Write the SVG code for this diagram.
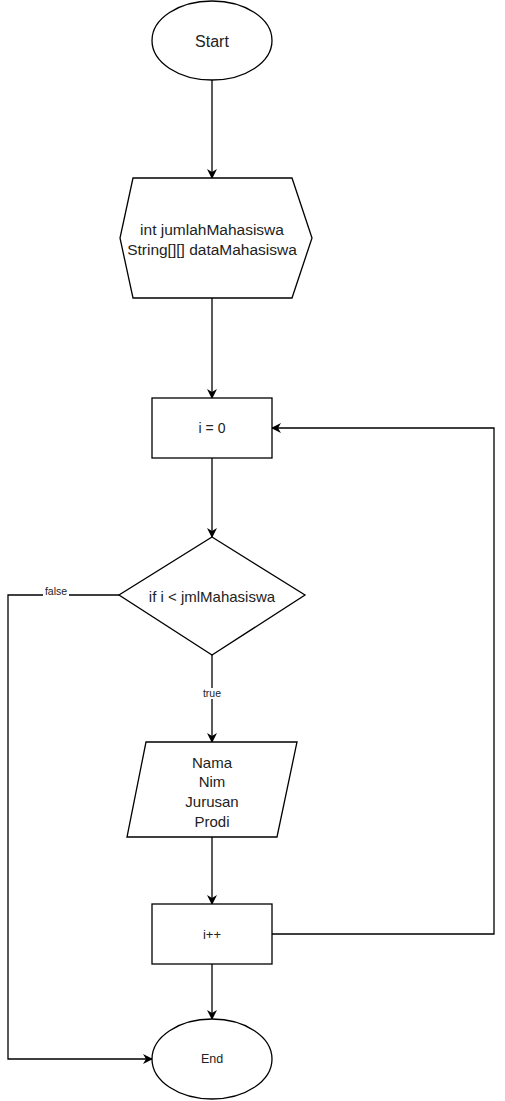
<svg xmlns="http://www.w3.org/2000/svg" width="505" height="1101" viewBox="0 0 505 1101">
<defs>
<marker id="arr" viewBox="0 0 10 10" refX="9" refY="5" markerWidth="10" markerHeight="10" markerUnits="userSpaceOnUse" orient="auto">
<path d="M0,0 L10,5 L0,10 L3,5 Z" fill="#000"/>
</marker>
<style>
.s{fill:#fff;stroke:#000;stroke-width:1.3}
.c{fill:none;stroke:#000;stroke-width:1.3;marker-end:url(#arr)}
.t{font-family:"Liberation Sans",Arial,sans-serif;fill:#222;text-anchor:middle;dominant-baseline:central}
.lbl{font-family:"Liberation Sans",Arial,sans-serif;fill:#222;text-anchor:middle;dominant-baseline:central;font-size:10.5px}
</style>
</defs>
<rect width="505" height="1101" fill="#fff"/>
<g id="connectors">
<path class="c" d="M212,80 L212,178"/>
<path class="c" d="M212,298 L212,398"/>
<path class="c" d="M212,458 L212,537"/>
<path class="c" d="M212,655 L212,742"/>
<path class="c" d="M212,837 L212,904"/>
<path class="c" d="M212,964 L212,1019"/>
<path class="c" d="M272,934 L494,934 L494,428 L272,428"/>
<path class="c" d="M119,595 L8,595 L8,1059 L152,1059"/>
<rect x="43" y="587" width="26" height="10" fill="#fff"/>
<text class="lbl" x="56" y="591">false</text>
<rect x="200" y="688" width="24" height="11" fill="#fff"/>
<text class="lbl" x="212" y="693">true</text>
</g>
<g id="start">
<ellipse class="s" cx="212" cy="40.5" rx="60" ry="39.5"/>
<text class="t" x="212" y="41" font-size="16">Start</text>
</g>
<g id="decl">
<polygon class="s" points="133,178 292,178 312,238 292,298 133,298 120,238"/>
<text class="t" x="212" y="229" font-size="15.5">int jumlahMahasiswa</text>
<text class="t" x="212" y="249" font-size="15.5">String[][] dataMahasiswa</text>
</g>
<g id="init">
<rect class="s" x="152" y="398" width="120" height="60"/>
<text class="t" x="212" y="428" font-size="14">i = 0</text>
</g>
<g id="cond">
<polygon class="s" points="212,537 305,595 212,655 119,595"/>
<text class="t" x="212" y="596" font-size="15">if i &lt; jmlMahasiswa</text>
</g>
<g id="input">
<polygon class="s" points="146,742 297,742 277,837 127,837"/>
<text class="t" x="212" y="762" font-size="15">Nama</text>
<text class="t" x="212" y="781" font-size="15">Nim</text>
<text class="t" x="212" y="801" font-size="15">Jurusan</text>
<text class="t" x="212" y="821" font-size="15">Prodi</text>
</g>
<g id="inc">
<rect class="s" x="152" y="904" width="120" height="60"/>
<text class="t" x="212" y="934" font-size="13">i++</text>
</g>
<g id="end">
<ellipse class="s" cx="212" cy="1059" rx="60" ry="40"/>
<text class="t" x="212" y="1059" font-size="12.5">End</text>
</g>
</svg>
